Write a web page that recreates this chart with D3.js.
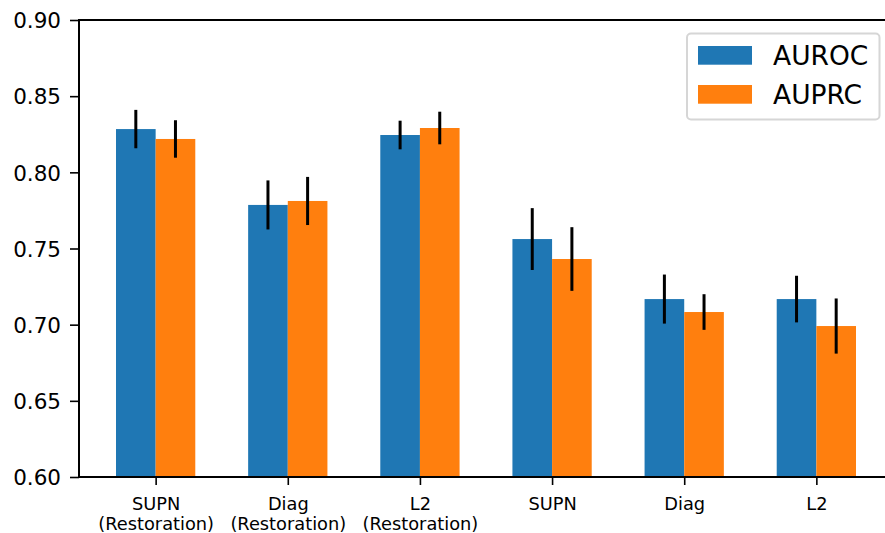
<!DOCTYPE html>
<html><head><meta charset="utf-8">
<script src="https://cdn.jsdelivr.net/npm/d3@7"></script>
<style>html,body{margin:0;padding:0;background:#fff;overflow:hidden}</style>
</head><body>
<svg id="chart" width="885" height="533"></svg>
<script>
const categories = [["SUPN","(Restoration)"],["Diag","(Restoration)"],["L2","(Restoration)"],["SUPN"],["Diag"],["L2"]];
const seriesNames = ["AUROC","AUPRC"];
const auroc = [0.8284, 0.7786, 0.8245, 0.7562, 0.7168, 0.7168];
const aurocErr = [0.0126, 0.0161, 0.0094, 0.0203, 0.0161, 0.0153];
const auprc = [0.8219, 0.7812, 0.8291, 0.7431, 0.7083, 0.6991];
const auprcErr = [0.0123, 0.0158, 0.0107, 0.0209, 0.0117, 0.0181];
const yTicks = [0.60, 0.65, 0.70, 0.75, 0.80, 0.85, 0.90];
const colors = ["#1f77b4", "#ff7f0e"];

(function(){
const svg = d3.select("#chart");
const font = "DejaVu Sans";
const mLeft = 79, mRight = 893, mTop = 20, mBottom = 477;
const barW = 0.3;
const x = d3.scaleLinear().domain([-0.58, 5.58]).range([mLeft, mRight]);
const y = d3.scaleLinear().domain([0.60, 0.90]).range([mBottom, mTop]);

const series = [
  {name: seriesNames[0], vals: auroc, errs: aurocErr, off: -barW, color: colors[0]},
  {name: seriesNames[1], vals: auprc, errs: auprcErr, off: 0, color: colors[1]}
];

series.forEach(s => {
  svg.append("g").selectAll("rect").data(s.vals).join("rect")
    .attr("x", (d,i) => x(i + s.off))
    .attr("width", (d,i) => x(i + s.off + barW) - x(i + s.off))
    .attr("y", d => y(d))
    .attr("height", d => y(0.60) - y(d))
    .attr("fill", s.color);
});
series.forEach(s => {
  svg.append("g").selectAll("line").data(s.vals).join("line")
    .attr("x1", (d,i) => x(i + s.off + barW/2))
    .attr("x2", (d,i) => x(i + s.off + barW/2))
    .attr("y1", (d,i) => y(d - s.errs[i]))
    .attr("y2", (d,i) => y(d + s.errs[i]))
    .attr("stroke", "#000").attr("stroke-width", 3);
});

// spines
const spine = (x1,y1,x2,y2) => svg.append("line").attr("x1",x1).attr("y1",y1).attr("x2",x2).attr("y2",y2)
  .attr("stroke","#000").attr("stroke-width",2).attr("stroke-linecap","square");
spine(mLeft, mTop, mLeft, mBottom);
spine(mLeft, mTop, mRight, mTop);
spine(mLeft, mBottom, mRight, mBottom);
spine(mRight, mTop, mRight, mBottom);

// y axis
const yAxis = d3.axisLeft(y).tickValues(yTicks).tickFormat(d3.format(".2f")).tickSize(9).tickPadding(9);
const gy = svg.append("g").attr("transform", `translate(${mLeft},0)`).call(yAxis);
gy.select(".domain").remove();
gy.selectAll(".tick line").attr("stroke","#000").attr("stroke-width",1.6);
gy.selectAll(".tick text").attr("font-family", font).attr("font-size", 21.5).attr("fill","#000").attr("dy","0.36em");

// x axis
const xAxis = d3.axisBottom(x).tickValues(d3.range(categories.length)).tickFormat("").tickSize(8);
const gx = svg.append("g").attr("transform", `translate(0,${mBottom})`).call(xAxis);
gx.select(".domain").remove();
gx.selectAll(".tick line").attr("stroke","#000").attr("stroke-width",1.6);
gx.selectAll(".tick").each(function(d,i){
  const t = d3.select(this).append("text").attr("font-family", font).attr("font-size", 17.8)
    .attr("fill","#000").attr("text-anchor","middle");
  categories[i].forEach((line, j) => {
    t.append("tspan").attr("x", 0).attr("y", 32.5 + j*20.6).text(line);
  });
});

// legend
const lg = svg.append("g");
lg.append("rect").attr("x", 687).attr("y", 33.5).attr("width", 192.5).attr("height", 86)
  .attr("rx", 4).attr("fill", "#fff").attr("fill-opacity", 0.8).attr("stroke", "#d6d6d6").attr("stroke-width", 2);
series.forEach((s, i) => {
  const yy = 46 + i * 39;
  lg.append("rect").attr("x", 698).attr("y", yy).attr("width", 54).attr("height", 18.7).attr("fill", s.color);
  lg.append("text").attr("x", 773).attr("y", yy + 18.7).attr("font-family", font).attr("font-size", 26.5)
    .attr("fill", "#000").text(s.name);
});
})();
</script>
</body></html>
